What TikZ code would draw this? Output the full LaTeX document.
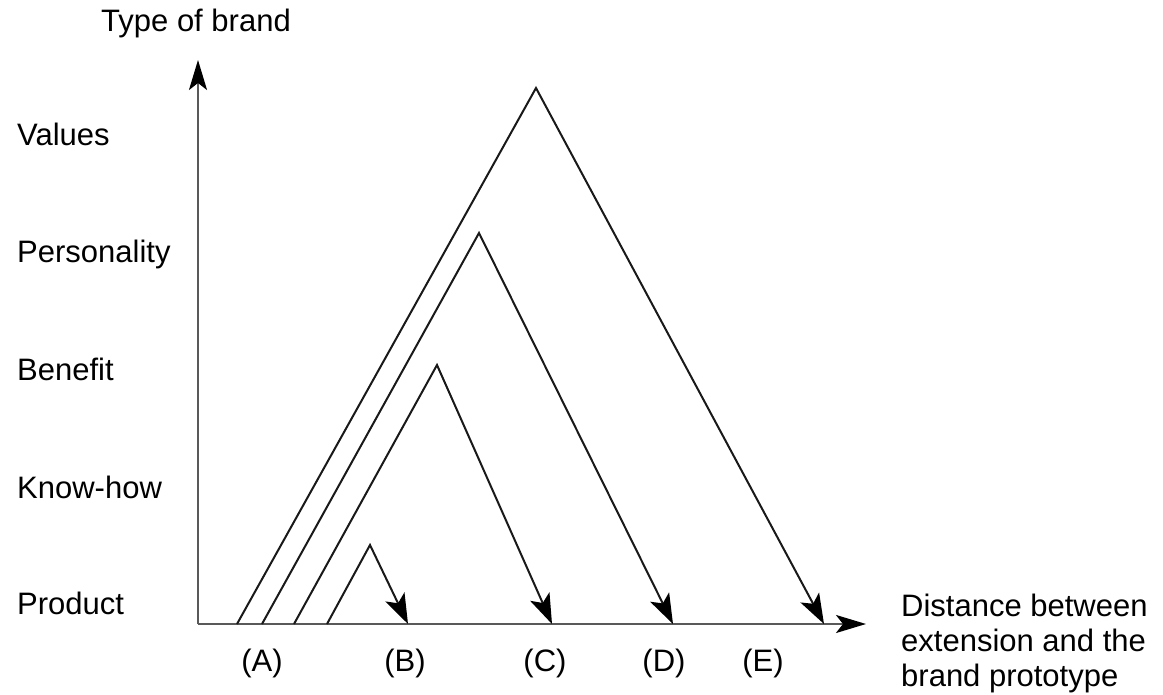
\documentclass[tikz,border=0pt]{standalone}
\usepackage{fontspec}
\setmainfont{Liberation Sans}
\usetikzlibrary{arrows.meta}
\begin{document}
\begin{tikzpicture}[x=1pt,y=-1pt,
  axis/.style={line width=2.2pt,draw=black!65,-{Stealth[length=30pt,width=18pt,inset=7pt,color=black]}},
  ext/.style={line width=2pt,draw=black!90,line join=miter},
  extarr/.style={ext,-{Stealth[length=30pt,width=21pt,inset=7pt,color=black]}},
  lbl/.style={font=\fontsize{31}{35}\selectfont,inner sep=0pt}]
\useasboundingbox (0,0) rectangle (1163,695);
% axes
\coordinate (O) at (198,624);
\coordinate (ytip) at (198,60);
\coordinate (xtip) at (866,624);
\draw[axis] (O) -- (ytip);
\draw[axis] (O) -- (xtip);
% extension curves
\coordinate (sA) at (237,624); \coordinate (pE) at (536,88);  \coordinate (eE) at (824,624);
\coordinate (sB) at (262,624); \coordinate (pD) at (479,233); \coordinate (eD) at (673,624);
\coordinate (sC) at (294,624); \coordinate (pC) at (437,365); \coordinate (eC) at (552,624);
\coordinate (sD) at (327,624); \coordinate (pB) at (370,545); \coordinate (eB) at (408,624);
\draw[extarr] (sA) -- (pE) -- (eE);
\draw[extarr] (sB) -- (pD) -- (eD);
\draw[extarr] (sC) -- (pC) -- (eC);
\draw[extarr] (sD) -- (pB) -- (eB);
% y labels
\node[lbl,anchor=base] (ytitle) at (196,32) {Type of brand};
\node[lbl,anchor=base west] (values) at (17,146) {Values};
\node[lbl,anchor=base west] (personality) at (17,263) {Personality};
\node[lbl,anchor=base west] (benefit) at (17,380) {Benefit};
\node[lbl,anchor=base west] (knowhow) at (17,498) {Know-how};
\node[lbl,anchor=base west] (product) at (17,614) {Product};
% x labels
\node[lbl,anchor=base] (la) at (262,671) {(A)};
\node[lbl,anchor=base] (lb) at (405,671) {(B)};
\node[lbl,anchor=base] (lc) at (545,671) {(C)};
\node[lbl,anchor=base] (ld) at (664,671) {(D)};
\node[lbl,anchor=base] (le) at (763,671) {(E)};
\node[lbl,anchor=north west,align=left] (xtitle) at (901,594)
  {Distance between\\extension and the\\brand prototype};
\end{tikzpicture}
\end{document}
